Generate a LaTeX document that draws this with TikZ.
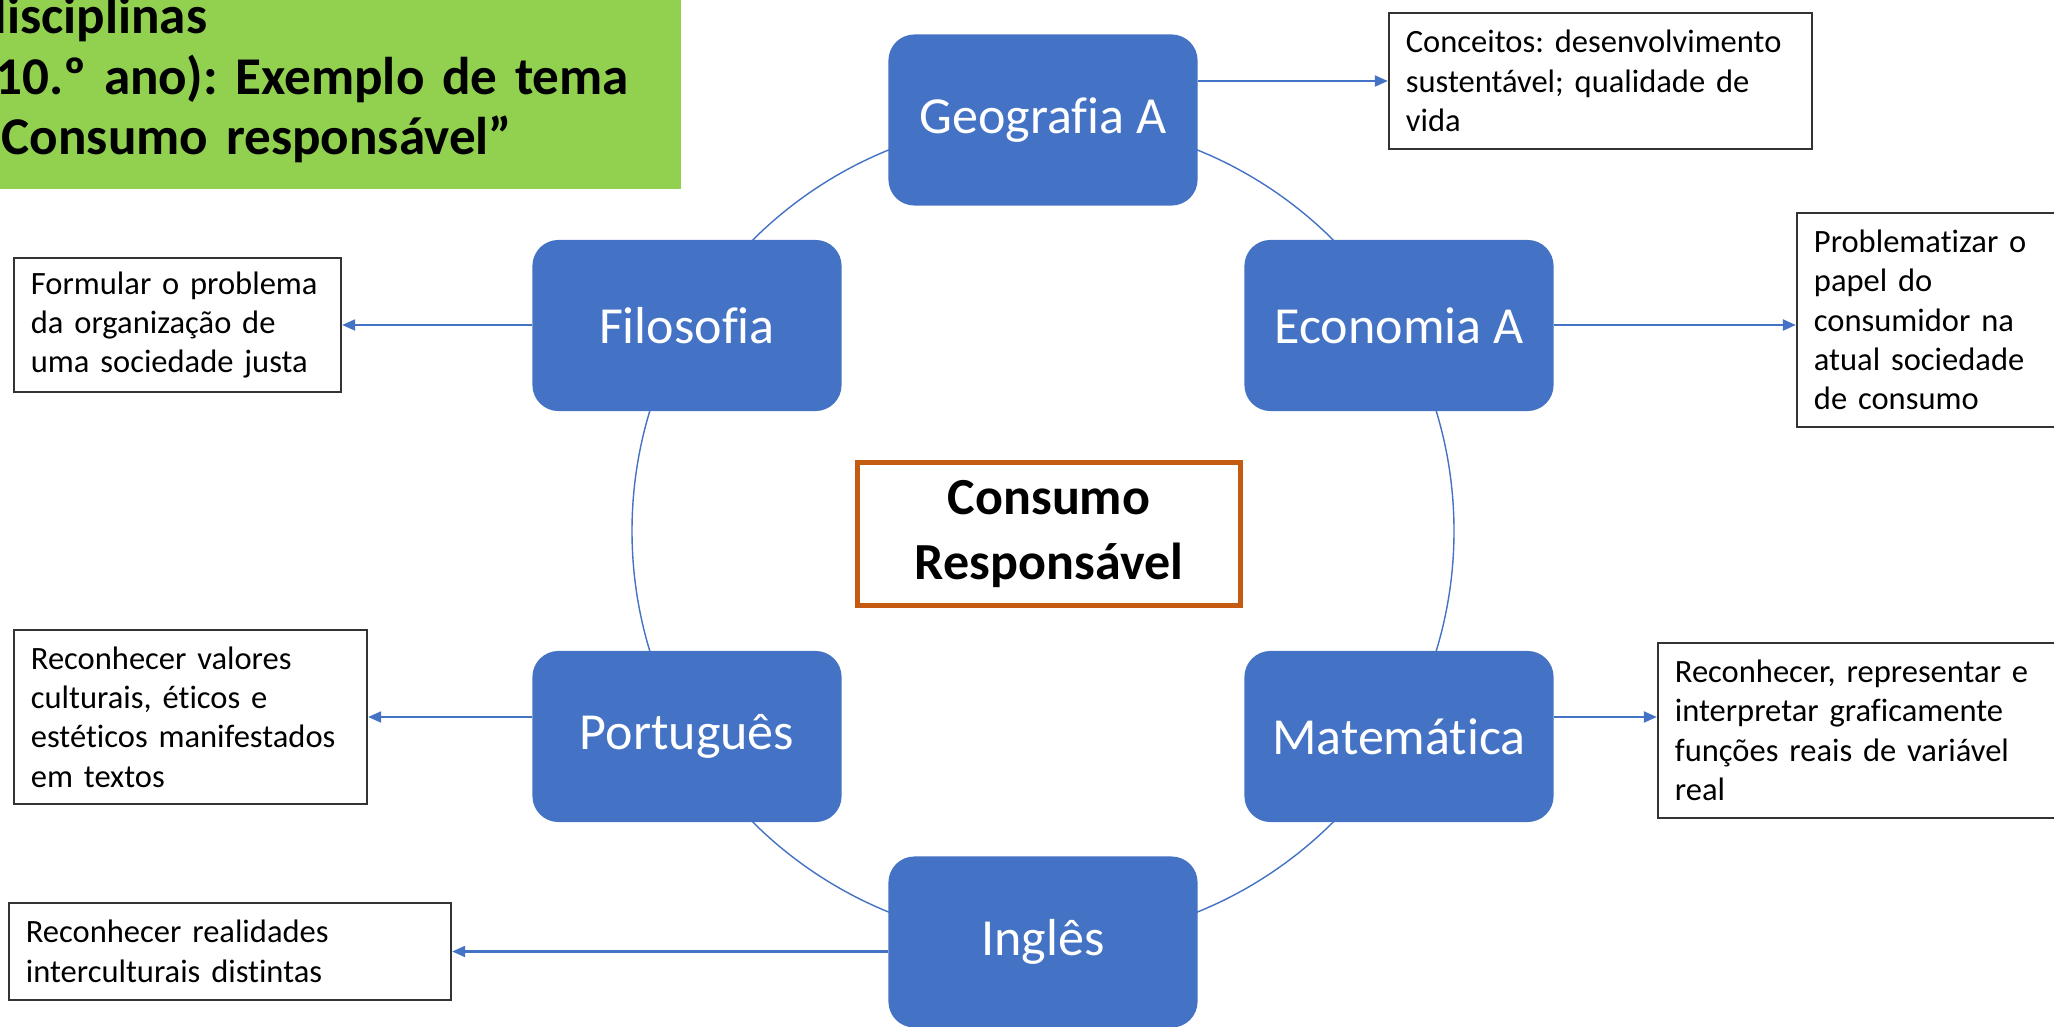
\documentclass[tikz,border=0pt]{standalone}
\usepackage{fontspec}
\setmainfont{Carlito}[Ligatures=NoCommon]
\frenchspacing
\usetikzlibrary{arrows.meta}
\definecolor{subjblue}{HTML}{4472C4}
\definecolor{titlegreen}{HTML}{92D050}
\definecolor{hubrust}{HTML}{C55A11}

\begin{document}
\begin{tikzpicture}[x=0.01cm,y=0.01cm]
\tikzstyle{subject}=[
  rectangle,
  rounded corners=0.26cm,
  fill=subjblue, text=white,
  minimum width=3.09cm, minimum height=1.71cm,
  font=\fontsize{14.8}{17.8}\selectfont ]
\tikzstyle{note}=[
  rectangle,
  draw=black!80, line width=0.6pt,
  align=left, inner xsep=0.17cm,
  font=\fontsize{9.25}{11.2}\selectfont ]
\tikzstyle{hub}=[
  rectangle,
  draw=hubrust, line width=0.05cm, fill=white,
  minimum width=3.83cm, minimum height=1.42cm,
  align=center,
  font=\bfseries\fontsize{14.8}{18.6}\selectfont ]
\tikzstyle{link}=[subjblue, line width=0.6pt, -{Triangle[length=0.13cm,width=0.11cm]}]
\tikzstyle{ringline}=[subjblue, line width=0.4pt]
\useasboundingbox (0,0) rectangle (2054,1026);

\node[fill=titlegreen, anchor=south west, align=left,
  text width=6.92cm, inner xsep=0.1cm, inner ysep=0.26cm,
  font=\bfseries\fontsize{15.1}{17.2}\selectfont] (title) at (-32,836)
  {disciplinas\\(10.º ano): Exemplo de tema\\“Consumo responsável”};

\coordinate (ring) at (1043,495);
\draw[ringline] (ring) circle[radius=411];

\node[subject] (geo) at (1043,906) {Geografia A};
\node[subject] (eco) at (1399,700.5) {Economia A};
\node[subject] (mat) at (1399,289.5) {Matemática};
\node[subject] (ing) at (1043,84) {Inglês};
\node[subject] (por) at (687,289.5) {Português};
\node[subject] (fil) at (687,700.5) {Filosofia};

\node[hub] (hub) at (1049,492) {Consumo\\Responsável};

\node[note, text width=3.89cm, minimum height=1.36cm] (geonote) at (1600.5,945)
  {Conceitos: desenvolvimento\\sustentável; qualidade de\\vida};
\node[note, text width=2.31cm, minimum height=2.14cm] (econote) at (1929.5,706)
  {Problematizar o\\papel do\\consumidor na\\atual sociedade\\de consumo};
\node[note, text width=3.70cm, minimum height=1.75cm] (matnote) at (1860,295.5)
  {Reconhecer, representar e\\interpretar graficamente\\funções reais de variável\\real};
\node[note, text width=4.08cm, minimum height=0.97cm] (ingnote) at (230,74.5)
  {Reconhecer realidades\\interculturais distintas};
\node[note, text width=3.19cm, minimum height=1.74cm] (pornote) at (190.5,309)
  {Reconhecer valores\\culturais, éticos e\\estéticos manifestados\\em textos};
\node[note, text width=2.93cm, minimum height=1.34cm] (filnote) at (177.5,701)
  {Formular o problema\\da organização de\\uma sociedade justa};

\draw[link] (geo.east |- geonote.west) -- (geonote.west);
\draw[link] (eco.east |- filnote.east) -- (econote.west |- filnote.east);
\draw[link] (mat.east |- pornote.east) -- (matnote.west |- pornote.east);
\draw[link] (ing.west |- ingnote.east) -- (ingnote.east);
\draw[link] (por.west |- pornote.east) -- (pornote.east);
\draw[link] (fil.west |- filnote.east) -- (filnote.east);
\end{tikzpicture}
\end{document}
